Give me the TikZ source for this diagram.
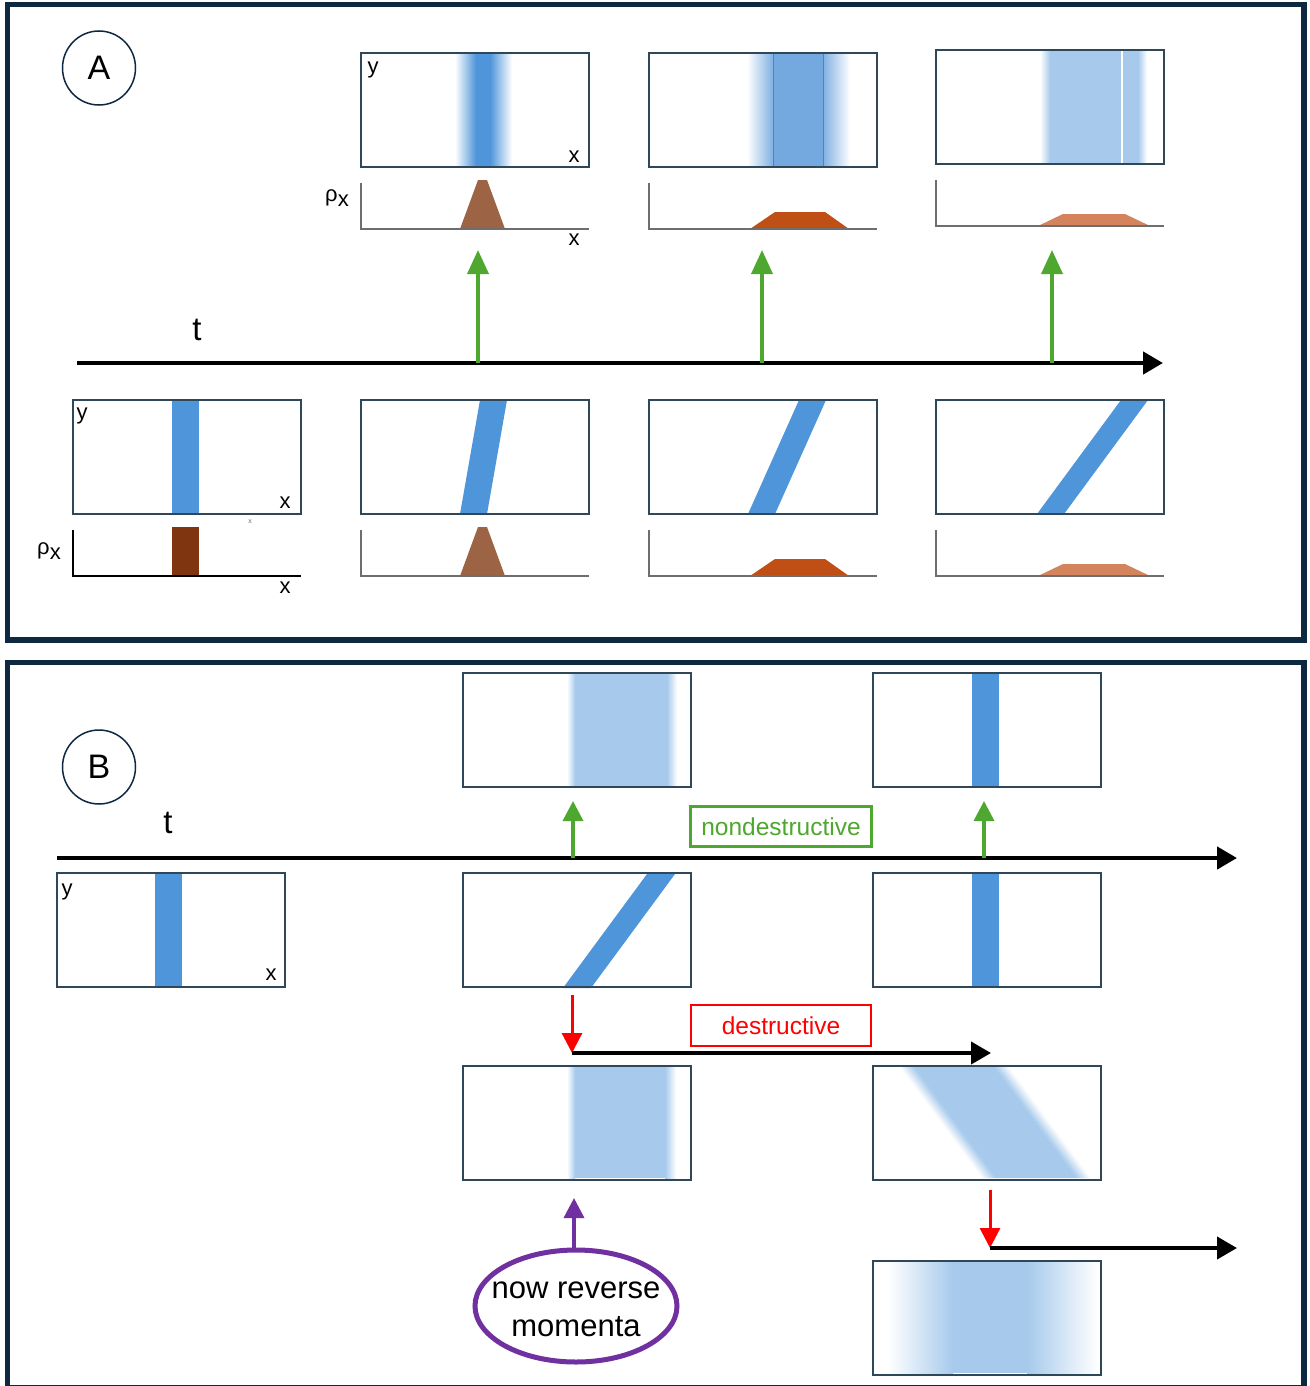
\documentclass[tikz,border=0pt]{standalone}
\usepackage{fontspec}
\setmainfont{Liberation Sans}
\usetikzlibrary{arrows.meta,shapes.geometric}
\definecolor{frame}{HTML}{0E2841}
\definecolor{boxline}{HTML}{2E4759}
\definecolor{core}{HTML}{4E95D9}
\definecolor{midb}{HTML}{74A9DF}
\definecolor{midfade}{HTML}{80B0E2}
\definecolor{lightb}{HTML}{A7CAEC}
\definecolor{grn}{HTML}{4EA72E}
\definecolor{purp}{HTML}{7030A0}
\definecolor{brA}{HTML}{9C6444}
\definecolor{brB}{HTML}{C04F15}
\definecolor{brC}{HTML}{D4845C}
\definecolor{brD}{HTML}{7F3510}
\definecolor{axgray}{HTML}{6E6E6E}
\newcommand\trapA[3]{\fill[#3] ({#1+99},#2) -- ({#1+117},{#2-49}) -- ({#1+126},{#2-49}) -- ({#1+144},#2) -- cycle;}
\newcommand\trapB[3]{\fill[#3] ({#1+101},#2) -- ({#1+126},{#2-17}) -- ({#1+176},{#2-17}) -- ({#1+200},#2) -- cycle;}
\newcommand\trapC[3]{\fill[#3] ({#1+102},#2) -- ({#1+127},{#2-12}) -- ({#1+189},{#2-12}) -- ({#1+214},#2) -- cycle;}
\newcommand\rhoaxes[2]{\draw[rhoaxis] (#1,{#2-46}) -- (#1,#2) -- ({#1+228},#2);}
\begin{document}
\begin{tikzpicture}[x=1pt,y=-1pt,
  panel/.style={draw=frame,line width=5.5pt},
  plotbox/.style={draw=boxline,line width=1.3pt,minimum width=228pt,minimum height=114pt,inner sep=0pt,outer sep=0pt,anchor=north west},
  rhoaxis/.style={draw=axgray,line width=1.5pt},
  lbl/.style={font=\fontsize{22}{24}\selectfont,inner sep=0pt},
  tlbl/.style={font=\fontsize{33}{36}\selectfont,inner sep=0pt},
  letter/.style={ellipse,draw=frame,line width=1.5pt,minimum width=73pt,minimum height=74pt,inner sep=0pt,font=\fontsize{34}{36}\selectfont},
  taxis/.style={line width=4.5pt,-{Triangle[length=20pt,width=22pt]}},
  garrow/.style={draw=grn,line width=3.5pt,-{Triangle[length=24pt,width=21pt]}},
  rarrow/.style={draw=red,line width=3pt,-{Triangle[length=20pt,width=20pt]}},
  parrow/.style={draw=purp,line width=3.5pt,-{Triangle[length=20pt,width=20pt]}},
  tagbox/.style={line width=2.5pt,minimum width=181pt,minimum height=40pt,inner sep=0pt,font=\fontsize{24.5}{26}\selectfont}
]
\useasboundingbox (0,0) rectangle (1309,1386);
\fill[white] (0,0) rectangle (1309,1386);

% ================= Panel A =================
\draw[panel] (7.5,4.5) rectangle (1304,640);
\node[letter] (labA) at (99,68) {A};

% top row fills
\shade[left color=white,right color=core] (455,54) rectangle (476,166);
\fill[core] (476,54) rectangle (490,166);
\shade[left color=core,right color=white] (490,54) rectangle (512,166);

\shade[left color=white,right color=midfade] (747,54) rectangle (773,166);
\fill[midb] (773,54) rectangle (823,166);
\shade[left color=midfade,right color=white] (823,54) rectangle (850,166);
\draw[core!90!black,line width=0.8pt] (773,54) -- (773,167) (823,54) -- (823,167);

\shade[left color=white,right color=lightb] (1040,51) rectangle (1050,163);
\fill[lightb] (1050,51) rectangle (1138,163);
\shade[left color=lightb,right color=white] (1138,51) rectangle (1147,163);
\draw[white,line width=1.5pt] (1122,51) -- (1122,163);

\node[plotbox] (TA1) at (361,53) {};
\node[plotbox] (TA2) at (649,53) {};
\node[plotbox] (TA3) at (936,50) {};
\node[lbl] (TA1y) at (373,70) {y};
\node[lbl] (TA1x) at (574,157) {x};

% top row rho plots
\trapA{361}{229}{brA}
\trapB{649}{229}{brB}
\trapC{936}{226}{brC}
\rhoaxes{361}{229}
\rhoaxes{649}{229}
\rhoaxes{936}{226}
\node[lbl] (TArho) at (337,198) {ρ\raisebox{-0.25em}{x}};
\node[lbl] (TArx) at (574,240) {x};

% time axis A
\coordinate (tA0) at (77,363);
\coordinate (tA1) at (1163,363);
\draw[taxis] (tA0) -- (tA1);
\node[tlbl] (tAl) at (197,330) {t};
\coordinate (gA1s) at (478,363); \coordinate (gA1e) at (478,250);
\coordinate (gA2s) at (762,363); \coordinate (gA2e) at (762,250);
\coordinate (gA3s) at (1052,363); \coordinate (gA3e) at (1052,250);
\draw[garrow] (gA1s) -- (gA1e);
\draw[garrow] (gA2s) -- (gA2e);
\draw[garrow] (gA3s) -- (gA3e);

% bottom row fills
\fill[core] (172,401) rectangle (199,514);
\fill[core] (460,514) -- (487,514) -- (507,400) -- (480,400) -- cycle;
\fill[core] (748,514) -- (775,514) -- (826,400) -- (799,400) -- cycle;
\fill[core] (1037,514) -- (1064,514) -- (1148,400) -- (1121,400) -- cycle;
\node[plotbox] (BA0) at (73,400) {};
\node[plotbox] (BA1) at (361,400) {};
\node[plotbox] (BA2) at (649,400) {};
\node[plotbox] (BA3) at (936,400) {};
\node[lbl] (BA0y) at (82,416) {y};
\node[lbl] (BA0x) at (285,503) {x};
\node[font=\fontsize{7}{8}\selectfont,text=axgray,inner sep=0pt] (tinyx) at (250,522) {x};

% bottom row rho plots
\fill[brD] (172,527) rectangle (199,576);
\trapA{361}{576}{brA}
\trapB{649}{576}{brB}
\trapC{936}{576}{brC}
\draw[line width=1.5pt] (73,530) -- (73,576) -- (301,576);
\rhoaxes{361}{576}
\rhoaxes{649}{576}
\rhoaxes{936}{576}
\node[lbl] (BArho) at (49,551) {ρ\raisebox{-0.25em}{x}};
\node[lbl] (BArx) at (285,588) {x};

% ================= Panel B =================
\draw[panel] (7.5,662.5) rectangle (1304,1388);
\node[letter] (labB) at (99,767) {B};

% top row B
\shade[left color=white,right color=lightb] (567,674) rectangle (575,786);
\fill[lightb] (575,674) rectangle (667,786);
\shade[left color=lightb,right color=white] (667,674) rectangle (677,786);
\fill[core] (972,674) rectangle (999,786);
\node[plotbox] (TB1) at (463,673) {};
\node[plotbox] (TB2) at (873,673) {};

% time axis B
\coordinate (tB0) at (57,858);
\coordinate (tB1) at (1237,858);
\draw[taxis] (tB0) -- (tB1);
\node[tlbl] (tBl) at (168,823) {t};
\coordinate (gB1s) at (573,858); \coordinate (gB1e) at (573,801);
\coordinate (gB2s) at (984,858); \coordinate (gB2e) at (984,801);
\draw[garrow,-{Triangle[length=20pt,width=20pt]}] (gB1s) -- (gB1e);
\draw[garrow,-{Triangle[length=20pt,width=20pt]}] (gB2s) -- (gB2e);
\node[tagbox,draw=grn,text=grn] (nd) at (781,826.5) {nondestructive};

% middle row B
\fill[core] (155,874) rectangle (182,987);
\fill[core] (563,988) -- (591,988) -- (675,874) -- (647,874) -- cycle;
\fill[core] (972,874) rectangle (999,987);
\node[plotbox] (MB0) at (57,873) {};
\node[plotbox] (MB1) at (463,873) {};
\node[plotbox] (MB2) at (873,873) {};
\node[lbl] (MB0y) at (67,892) {y};
\node[lbl] (MB0x) at (271,975) {x};

% destructive step 1
\coordinate (r1s) at (572,995);
\coordinate (r1e) at (572,1053);
\coordinate (k1e) at (991,1053);
\draw[rarrow] (r1s) -- (r1e);
\draw[taxis,line width=4pt] (r1e) -- (k1e);
\node[tagbox,draw=red,text=red,minimum width=180pt,minimum height=41pt] (dd) at (781,1025.5) {destructive};

% lower row B
\shade[left color=white,right color=lightb] (567,1067) rectangle (575,1178);
\fill[lightb] (575,1067) rectangle (665,1178);
\shade[left color=lightb,right color=white] (665,1067) rectangle (676,1178);
% slanted soft band
\fill[lightb] (914,1067) -- (995,1067) -- (1077,1178) -- (996,1178) -- cycle;
\foreach \i in {0,...,9}{
  \pgfmathsetmacro\p{(\i+0.5)*10}
  \pgfmathsetmacro\q{100-(\i+0.5)*10}
  \fill[lightb!\p!white] ({900+1.4*\i},1067) -- ({900+1.4*\i+1.6},1067) -- ({982+1.4*\i+1.6},1178) -- ({982+1.4*\i},1178) -- cycle;
  \fill[lightb!\q!white] ({995+1.4*\i},1067) -- ({995+1.4*\i+1.6},1067) -- ({1077+1.4*\i+1.6},1178) -- ({1077+1.4*\i},1178) -- cycle;
}
\node[plotbox] (LB1) at (463,1066) {};
\node[plotbox] (LB2) at (873,1066) {};

% reverse momenta
\node[ellipse,draw=purp,line width=5pt,minimum width=202pt,minimum height=112pt,inner sep=0pt] (rev) at (576,1306) {};
\node[align=center,inner sep=0pt,font=\fontsize{31}{38}\selectfont] (revtxt) at (576,1309) {now reverse\\momenta};
\draw[parrow,shorten >=18pt] ([xshift=-2pt]rev.north) -- ([xshift=-2pt]rev.north |- LB1.south);

% destructive step 2
\coordinate (r2s) at (990,1190);
\coordinate (r2e) at (990,1248);
\coordinate (k2e) at (1237,1248);
\draw[rarrow] (r2s) -- (r2e);
\draw[taxis,line width=4pt] (r2e) -- (k2e);

% bottom box
\shade[left color=white,right color=lightb] (888,1262) rectangle (953,1373);
\fill[lightb] (953,1262) rectangle (1027,1373);
\shade[left color=lightb,right color=white] (1027,1262) rectangle (1098,1373);
\node[plotbox] (BB) at (873,1261) {};
\end{tikzpicture}
\end{document}
